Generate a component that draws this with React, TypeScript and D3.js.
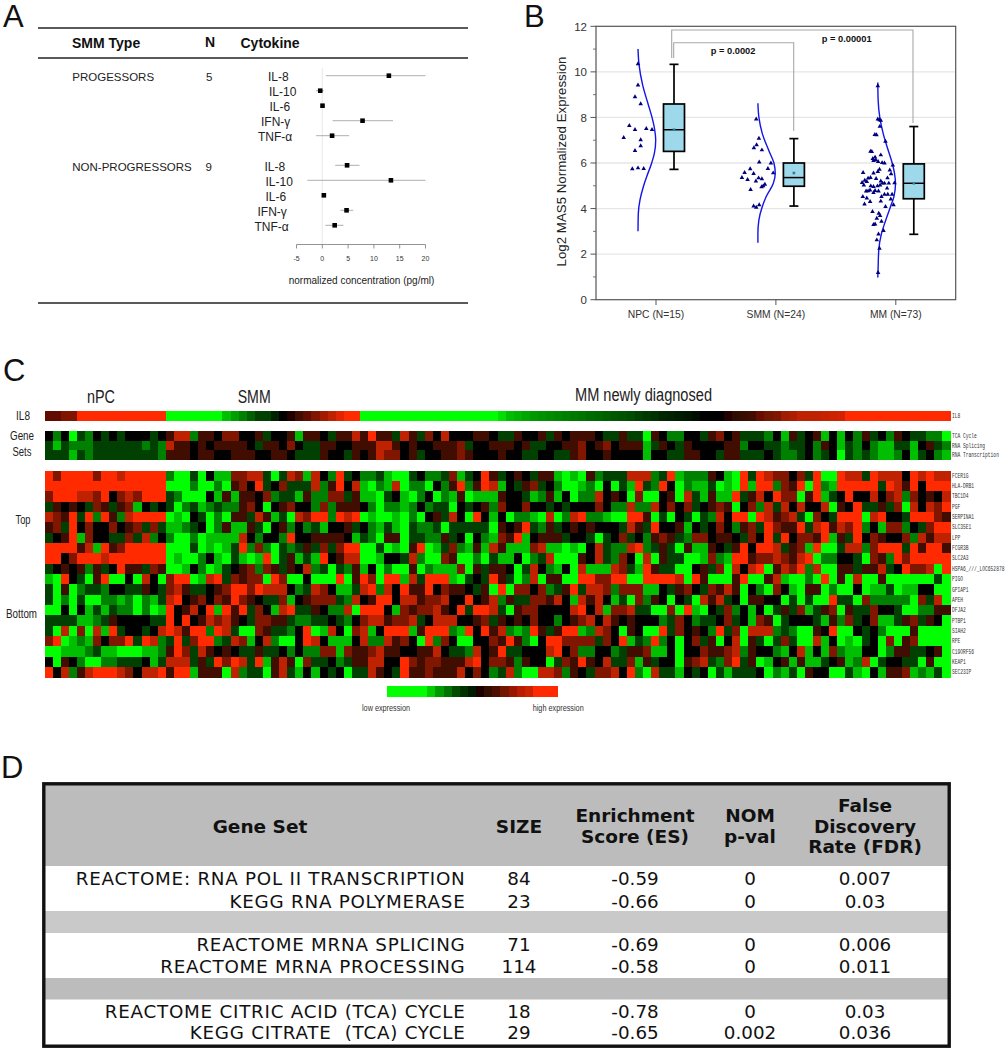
import React from "react";
import * as d3 from "d3";

// ---------- Panel A ----------
const cytokines = ["IL-8", "IL-10", "IL-6", "IFN-γ", "TNF-α"];
const progMean = [12.9, -0.4, 0.04, 7.8, 1.9];
const progLow = [0.7, -1.2, -0.2, 2.0, -1.2];
const progHigh = [20, 0.3, 0.2, 13.7, 5.2];
const nonMean = [4.8, 13.3, 0.3, 4.7, 2.4];
const nonLow = [2.5, -2.9, 0.0, 3.5, 0.6];
const nonHigh = [7.2, 20, 0.6, 6.0, 4.1];
const concTicks = [-5, 0, 5, 10, 15, 20];

// ---------- Panel B ----------
const groups = ["NPC (N=15)", "SMM (N=24)", "MM (N=73)"];
const exprTicks = [0, 2, 4, 6, 8, 10, 12];
const exprMinor = [1, 3, 5, 7, 9, 11];
const boxQ1 = [6.51, 4.98, 4.43];
const boxQ3 = [8.59, 6.0, 5.96];
const boxMedian = [7.46, 5.36, 5.11];
const boxMean = [7.46, 5.56, 5.11];
const whiskLow = [5.72, 4.11, 2.87];
const whiskHigh = [10.33, 7.07, 7.6];

const npcValues = [10.35, 9.42, 8.9, 8.59, 7.64, 7.46, 7.51, 7.46, 7.11, 7.01, 6.75, 6.54, 5.74, 5.78, 5.75];
const npcJitter = [-18, -18, -21, -15.3, -26.7, -21, -9.7, -4, -32.3, -15.3, -15.3, -21, -23.7, -18, -12.3];
const smmValues = [7.92, 7.08, 6.79, 6.66, 6.57, 6.04, 5.99, 5.75, 5.74, 5.58, 5.53, 5.56, 5.36, 5.34, 5.3, 5.27, 5.2, 5.06, 4.99, 4.95, 4.83, 4.16, 4.11, 4.05];
const smmJitter = [-19.7, -17, -19.3, -22, -14, -16.7, -5, -8, -25.7, -31.3, -22.3, -2.7, -34, -17.3, -14, -28.3, -20, -11, -12.7, -14.3, -25.3, -16.7, -22.3, -19.7];
const mmValues = [9.38, 7.92, 7.89, 7.87, 7.6, 7.24, 7.23, 6.95, 6.51, 6.5, 6.35, 6.25, 6.19, 6.13, 6.1, 6.06, 6.01, 5.99, 5.9, 5.72, 5.69, 5.62, 5.52, 5.58, 5.55, 5.36, 5.33, 5.24, 5.18, 5.34, 5.31, 5.2, 5.11, 5.14, 5.03, 4.99, 4.96, 4.99, 5.03, 5.11, 5.11, 5.12, 4.89, 4.81, 4.77, 4.79, 4.76, 4.76, 4.7, 4.62, 4.62, 4.62, 4.52, 4.52, 4.46, 4.3, 4.32, 4.41, 4.19, 4.16, 4.08, 3.86, 3.79, 3.69, 3.57, 3.44, 3.32, 3.29, 3.03, 2.88, 2.62, 2.25, 1.19];
const mmJitter = [-18, -18, -16.3, -15, -16, -21, -19.3, -10.3, -25.3, -24, -15, -20.7, -23, -20, -22.3, -17.7, -13.7, -11.3, -3, -16.3, -6, -18, -4.7, -32.7, -22.3, -25.3, -27.7, -31, -29, -8.3, -19.7, -15, -13.3, -33.7, -32, -25, -22.3, -18.3, -15.7, -11.3, -7, -1.3, -8.7, -25.7, -27.7, -20.7, -29.7, -17.3, -22.3, -11.3, -8, -3.7, -14.3, -33, -29, -25.7, -15, -5, -31.3, -2.3, -10.3, -23.3, -17, -15.7, -19, -14.3, -20.7, -22.3, -12.3, -17.3, -19, -16.3, -17.7];

const npcCurveV = [11, 10.33, 9.42, 8.6, 8, 7.46, 7, 6.42, 6, 5.4, 4.96, 4.38, 3.8, 3];
const npcCurveD = [0, 3, 14, 30, 42, 50, 53, 49, 41, 26, 16, 6, 1, 0];
const smmCurveV = [8.62, 8, 7.3, 6.57, 6, 5.55, 5.1, 4.5, 4.08, 3.5, 2.9, 2.5];
const smmCurveD = [0, 3, 13, 32, 48, 52, 46, 24, 13, 3, 0, 0];
const mmCurveV = [9.53, 8.77, 8, 7.3, 6.7, 6, 5.55, 5.1, 4.5, 4.08, 3.5, 2.9, 2.2, 1.45, 0.97];
const mmCurveD = [0, 1, 6, 16, 28, 43, 50, 53, 48, 38, 24, 11, 3, 1, 0];

// ---------- Panel C : levels 0 (low) .. 8 (high) ----------
const il8Levels = [1.5, 1.5, 2, 2, 4, 4, 4, 4, 4, 4, 4, 4, 4, 4, 4, -4, -4, -4, -4, -4, -4, -4, -3, -2.5, -2, -1.5, -1, -1, -0.5, 0, 0.5, 1, 1.5, 2, 2.5, 3, 3.5, 4, 4, -4, -4, -4, -4, -4, -4, -4, -4, -4, -4, -4, -4, -4, -4, -4, -4, -4, -3.5, -3, -2.8, -2.6, -2.4, -2.3, -2.2, -2.1, -2, -1.9, -1.8, -1.7, -1.6, -1.5, -1.4, -1.3, -1.2, -1, -0.9, -0.8, -0.6, -0.5, -0.4, -0.3, -0.2, -0.1, 0, 0, 0.5, 0.7, 0.9, 1, 1.6, 1.8, 2, 2.5, 2.7, 3, 3, 3, 3.1, 3.2, 3.3, 4, 4, 4, 4, 4, 4, 4, 4, 4, 4, 4, 4, 4];

const setNames = ["TCA Cycle", "RNA Splicing", "RNA Transcription"];
const setsA = [
  "4 2 4 0 3 2 4 3 4 3 4 4 4 3 4 5 7 7 2 5 5 4 6 6 4 4 5 3 4 4 5 1 5 5 4 3 5",
  "3 1 3 2 2 2 3 3 3 3 3 3 2 3 2 7 5 5 4 5 4 5 5 5 5 4 3 5 5 4 6 4 3 3 5 5 4",
  "3 3 3 1 3 2 3 3 3 3 3 3 3 3 2 5 5 5 4 5 5 4 4 5 5 5 4 4 5 5 4 3 3 3 5 4 4",
];
const setsB = [
  "5 7 5 8 5 5 3 7 5 3 6 4 7 4 4 4 5 5 4 3 3 5 4 4 5 3 5 4 5 5 5 4 3 3 5 3 3 0 5 4 2",
  "4 5 5 5 7 7 5 4 5 4 4 5 5 5 6 3 4 4 5 5 5 4 5 3 3 4 4 5 5 6 4 5 6 4 5 5 5 1 3 5 4",
  "3 5 4 5 7 6 6 4 5 3 4 4 5 5 6 5 4 4 4 5 4 4 3 3 4 4 3 3 5 6 4 4 5 4 4 4 4 1 4 4 3",
];
const setsC = [
  "2 4 4 3 5 6 4 5 3 3 3 2 4 1 5 3 4 5 1 4 1 4 2 5 3 4 2 5 4 3 3 2 2 0",
  "3 5 4 4 4 4 5 5 2 4 4 3 3 2 3 3 4 2 5 4 1 3 2 4 2 1 1 3 3 1 4 5 3 2",
  "3 5 5 4 4 3 5 5 3 3 3 4 3 2 2 3 4 2 3 4 0 3 2 3 2 1 1 2 4 1 3 4 2 1",
];

const geneNames = ["FCER1G", "HLA-DRB1", "TBC1D4", "PGF", "SERPINA1", "SLC35E1", "LPP", "FCGR3B", "SLC2A3", "HSPA6_///_LOC652878", "PIGO", "GPIAP1", "APEH", "DFJA2", "PTBP1", "SIAH2", "RPE", "C19ORF56", "KEAP1", "SEC23IP"];
const heatA = [
  "8 6 8 8 8 8 6 8 8 7 8 8 8 8 8 2 0 0 3 0 4 1 1 6 6 7 7 3 0 3 7 6 1 7 4 2 8",
  "8 8 8 8 8 8 8 8 8 8 8 8 8 8 8 0 0 0 2 0 0 2 0 5 6 4 8 3 4 6 3 3 3 7 2 5 8",
  "6 8 8 8 7 7 6 8 4 6 7 6 8 8 8 3 2 0 0 0 4 1 5 1 5 5 4 6 2 3 3 1 5 2 2 6 6",
  "3 5 4 5 4 3 6 5 3 5 6 1 4 3 4 3 0 2 3 1 2 3 2 2 5 6 4 0 4 5 6 4 4 2 6 2 5",
  "7 6 5 8 3 8 2 8 5 2 7 8 8 8 8 0 1 0 4 3 0 2 0 5 5 3 7 5 1 3 0 7 6 8 8 2 8",
  "5 6 3 8 4 6 4 4 6 4 5 6 3 6 3 1 1 2 3 4 0 2 5 1 1 5 3 0 4 5 2 4 2 3 1 4 4",
  "3 4 5 8 1 6 4 4 3 3 6 3 7 2 4 2 0 0 2 0 1 1 1 1 7 4 2 4 4 2 8 4 4 5 5 5 5",
  "8 8 8 8 5 7 1 8 5 6 8 8 8 8 8 0 0 0 3 0 1 0 1 3 8 2 6 2 0 3 2 3 5 3 6 3 6",
  "8 8 4 6 8 8 8 7 8 8 8 8 8 8 8 0 1 0 0 2 4 1 0 3 1 0 1 8 0 3 5 1 3 1 8 4 5",
  "3 4 5 4 5 2 5 3 4 8 5 5 3 6 5 0 0 1 4 2 0 1 3 4 5 6 2 6 5 3 5 4 7 2 3 0 3",
  "1 0 8 4 3 0 5 8 0 0 4 0 7 4 0 6 8 8 0 1 7 8 3 6 5 6 6 0 8 6 0 0 4 0 0 0 8",
  "3 0 5 0 2 3 3 2 4 4 3 3 5 4 3 6 7 5 3 3 4 5 6 8 8 6 8 7 7 7 4 2 3 7 6 4 1",
  "3 0 2 0 3 0 0 2 2 1 2 0 2 1 3 7 8 4 5 6 4 6 5 8 6 5 4 3 3 6 1 4 5 6 6 6 3",
  "0 0 4 0 4 1 3 1 3 2 2 0 2 0 1 8 4 5 7 4 8 1 8 5 8 3 6 4 1 7 8 3 3 5 4 2 2",
  "3 3 3 3 1 1 2 3 5 4 4 4 4 3 3 8 4 8 4 5 7 6 7 5 4 3 6 6 5 5 3 2 2 3 3 4 3",
  "3 0 7 0 6 0 7 1 8 3 4 4 3 4 7 8 7 5 8 8 2 8 7 3 0 0 6 5 3 3 2 4 8 0 1 7 4",
  "6 8 0 1 2 1 6 4 6 6 8 3 8 7 2 3 8 3 6 8 8 2 3 7 6 1 4 7 2 0 0 4 8 7 4 1 1",
  "0 0 1 1 1 2 3 1 1 0 0 0 1 1 2 5 8 6 3 7 5 4 5 4 3 3 5 3 3 4 2 4 2 2 6 6 1",
  "4 0 5 4 2 0 0 2 2 3 3 3 4 1 3 7 7 7 3 5 3 8 6 8 7 3 8 1 5 7 5 0 6 3 3 4 2",
  "8 4 7 2 5 7 8 8 8 7 6 4 7 7 8 5 8 8 1 5 5 5 0 7 2 3 3 0 5 7 3 1 4 1 4 3 4",
];
const heatB = [
  "3 4 2 2 3 1 0 0 3 4 2 2 3 6 1 3 4 8 5 3 4 5 4 3 5 5 1 0 1 0 5 2 3 3 3 7 7 7 2 3 8",
  "4 7 1 0 2 1 7 0 2 2 0 4 2 5 8 2 5 8 7 1 4 3 5 6 3 4 2 0 0 1 2 0 4 0 3 1 8 3 2 8 4",
  "3 5 1 1 0 3 4 1 0 2 4 0 2 1 5 0 1 1 1 5 4 4 3 1 2 5 1 4 0 2 2 7 4 5 4 0 6 0 0 4 5",
  "5 5 4 2 0 2 2 1 2 4 2 3 3 0 4 3 4 5 2 6 4 4 6 4 4 3 4 3 4 4 4 6 4 2 2 7 2 2 7 4 6",
  "7 8 0 1 0 0 1 0 2 0 4 5 3 7 4 0 8 4 1 4 0 2 2 1 0 7 0 2 7 8 2 2 1 0 0 8 8 5 0 3 0",
  "5 3 4 2 1 3 1 0 3 2 2 3 0 3 3 3 3 3 0 5 4 5 8 3 2 5 3 4 5 4 5 4 4 4 3 7 5 3 8 4 4",
  "4 1 3 2 0 5 5 0 3 3 2 2 5 3 4 0 4 2 1 6 5 8 1 4 5 5 5 3 4 4 3 0 3 4 6 3 4 2 5 6 5",
  "8 8 0 0 3 0 1 0 5 8 0 1 3 6 2 1 5 1 7 5 1 1 1 6 7 1 1 0 1 0 4 7 3 2 2 7 8 2 3 5 3",
  "7 7 0 0 1 4 4 3 7 2 0 0 6 5 0 0 2 0 3 1 1 4 0 2 3 7 0 0 0 5 4 7 3 2 6 4 0 7 0 5 3",
  "2 5 1 4 0 2 0 0 5 0 2 1 1 1 6 0 5 3 5 5 4 0 3 7 4 2 1 4 0 7 1 1 1 7 6 3 1 8 5 3 3",
  "0 5 8 6 0 8 8 1 7 3 8 8 8 1 0 3 4 3 8 5 3 0 2 7 0 5 5 0 0 8 8 6 6 8 8 0 0 8 8 8 8",
  "1 3 7 8 2 7 4 8 5 5 8 4 6 5 5 4 3 5 0 8 0 6 6 4 6 2 3 5 8 3 7 7 6 2 6 6 6 1 1 4 3",
  "2 7 4 5 8 8 4 7 7 5 6 6 7 4 4 8 4 5 7 2 5 3 3 6 6 5 7 4 1 7 5 7 4 1 3 0 6 2 5 4 0",
  "7 0 8 8 8 4 1 6 5 6 6 7 5 4 8 3 8 8 7 3 0 5 6 6 4 4 4 4 7 8 4 7 1 6 6 7 3 3 0 0 6",
  "2 4 6 7 7 5 6 6 7 3 4 7 7 7 4 4 5 6 3 5 4 5 4 6 4 4 2 4 5 6 7 4 7 5 4 5 4 4 4 2 3",
  "0 6 7 1 4 8 8 8 1 5 8 8 8 2 1 8 4 8 5 7 2 1 2 8 5 3 5 8 8 1 2 7 6 4 0 5 4 0 0 8 3",
  "1 4 7 2 2 7 5 6 4 0 8 2 6 4 0 0 4 4 6 5 8 5 2 0 4 8 8 6 6 6 6 3 6 4 8 1 3 2 8 2 4",
  "6 5 5 6 7 5 5 4 4 5 5 7 4 3 3 2 7 4 5 8 3 3 4 4 4 7 8 4 6 2 2 4 4 2 3 5 5 6 1 1 4",
  "3 5 5 7 7 4 4 8 6 5 6 6 5 5 5 7 8 4 6 6 5 2 5 4 4 0 3 6 5 8 5 4 7 3 3 6 1 5 3 4 4",
  "0 3 3 7 5 4 3 8 5 5 6 5 5 5 7 4 6 4 2 3 7 2 0 0 7 7 6 2 5 4 3 6 6 7 4 8 2 0 7 3 3",
];
const heatC = [
  "1 2 2 2 5 4 1 0 8 3 8 7 6 6 4 6 3 8 0 0 8 7 7 3 8 7 7 7 4 8 7 8 7 7",
  "0 2 1 1 3 0 1 0 8 1 8 8 2 6 5 8 0 8 2 1 8 8 8 8 8 3 8 7 5 8 4 8 8 8",
  "0 7 3 1 5 1 1 8 3 5 7 4 8 6 6 0 5 8 1 3 4 8 4 4 7 4 6 7 2 6 4 5 4 7",
  "4 6 3 4 5 6 5 0 4 6 2 7 3 7 4 7 4 4 7 0 5 4 8 3 3 5 3 6 0 7 4 7 6 8",
  "4 3 0 3 2 7 4 8 8 0 8 7 5 6 7 3 0 6 4 3 8 8 8 0 7 8 4 4 3 8 8 8 6 5",
  "5 1 4 3 4 6 4 2 5 6 3 8 6 5 5 8 3 7 8 5 7 6 8 2 4 1 6 6 2 4 3 6 8 8",
  "3 2 6 6 4 5 5 4 3 6 4 8 3 8 4 6 6 5 8 1 5 3 8 4 6 5 4 4 6 2 7 5 7 7",
  "0 5 1 1 5 4 3 5 8 4 8 8 7 3 5 6 1 8 0 0 3 7 7 2 6 8 8 8 3 8 5 8 8 5",
  "3 0 0 1 6 2 1 8 8 5 6 6 7 6 5 7 8 0 2 2 4 4 3 0 6 5 2 8 6 8 8 8 8 8",
  "0 0 4 5 3 6 0 7 4 7 8 0 5 7 6 8 2 7 0 0 5 5 3 5 5 7 3 4 8 6 6 7 0 8",
  "7 0 8 5 0 0 0 5 8 0 0 5 7 1 0 0 2 0 8 0 5 0 7 0 0 5 0 0 0 0 0 0 3 0",
  "5 6 4 3 6 5 7 5 0 4 2 0 6 4 1 0 5 5 0 2 0 0 4 0 1 1 3 0 1 1 4 4 0 0",
  "4 3 0 7 5 7 3 4 0 5 5 4 4 0 3 0 3 0 0 8 3 3 0 6 2 2 2 2 2 0 6 3 7 0",
  "0 8 1 0 4 3 6 2 4 1 4 0 3 5 3 6 1 3 5 6 0 5 3 3 6 4 4 3 0 0 2 2 5 5",
  "6 4 2 3 3 4 6 3 4 1 6 5 0 3 4 4 4 3 1 5 2 6 3 4 6 1 1 3 5 6 3 5 4 0",
  "6 4 5 4 2 8 3 6 0 7 7 7 2 3 2 0 0 5 4 8 0 0 4 3 4 2 0 0 0 5 0 0 0 0",
  "0 4 6 3 5 0 4 7 0 5 3 0 3 6 3 0 0 7 1 4 0 1 0 3 4 0 6 0 5 6 0 0 0 0",
  "0 4 4 6 5 5 6 7 2 5 4 4 2 1 4 7 1 4 1 6 2 1 1 4 4 0 2 5 5 3 3 4 5 0",
  "0 5 6 7 3 2 6 8 3 5 0 1 4 5 1 5 1 1 3 4 5 1 2 7 0 3 4 4 3 3 0 5 0 0",
  "1 4 3 4 0 3 1 3 3 3 4 0 2 1 3 0 5 4 4 0 0 3 1 0 4 1 5 5 6 1 2 1 3 0",
];
const legendLevels = [-4, -4, -4, -4, -4, -3.2, -2.4, -1.8, -1.2, -0.8, -0.4, 0.4, 0.8, 1.2, 1.8, 2.4, 2.9, 3.2, 4, 4, 4];

// ---------- Panel D ----------
const headerColumns = ["SIZE", "Enrichment\nScore (ES)", "NOM\np-val", "False\nDiscovery\nRate (FDR)"];
const geneSets = ["REACTOME: RNA POL II TRANSCRIPTION", "KEGG RNA POLYMERASE", "REACTOME MRNA SPLICING", "REACTOME MRNA PROCESSING", "REACTOME CITRIC ACID (TCA) CYCLE", "KEGG CITRATE  (TCA) CYCLE"];
const sizes = ["84", "23", "71", "114", "18", "29"];
const esScores = ["-0.59", "-0.66", "-0.69", "-0.58", "-0.78", "-0.65"];
const nomP = ["0", "0", "0", "0", "0", "0.002"];
const fdr = ["0.007", "0.03", "0.006", "0.011", "0.03", "0.036"];

const SANS = "'Liberation Sans', Arial, sans-serif";
const VERD = "'DejaVu Sans', Verdana, sans-serif";

const parse = (s: string) => s.split(" ").map((d) => +d - 4);
const heatColor = d3.scaleLinear<string>().domain([-4, 0, 4]).range(["#00ff00", "#000000", "#ff2a00"]);

function PanelA() {
  const x = d3.scaleLinear().domain([-5, 20]).range([296.5, 425.5]);
  const rowsTop = d3.scalePoint<number>().domain(d3.range(5)).range([75.7, 135.7]);
  const rowsBot = d3.scalePoint<number>().domain(d3.range(5)).range([165.3, 225.3]);
  const labelX1 = [268, 269, 269.5, 261, 258];
  const labelX2 = [264.5, 265.5, 265.5, 257.5, 254.5];
  const drawn = (y: any, mean: number[], lo: number[], hi: number[], lx: number[]) =>
    cytokines.map((c, i) => (
      <g key={c}>
        <line x1={x(lo[i])} x2={x(hi[i])} y1={y(i)} y2={y(i)} stroke="#9a9a9a" strokeWidth={0.8} />
        <rect x={x(mean[i]) - 2.3} y={y(i) - 2.3} width={4.6} height={4.6} fill="#000" />
        <text x={lx[i]} y={y(i) + 5.6} fontSize={12} fill="#222">{c}</text>
      </g>
    ));
  return (
    <g fontFamily={SANS}>
      <text x={3} y={27} fontSize={31} fill="#111">A</text>
      {[28, 58, 303].map((y) => (
        <line key={y} x1={38} x2={468} y1={y} y2={y} stroke="#222" strokeWidth={1.4} />
      ))}
      <g fontSize={14} fontWeight="bold" fill="#111">
        <text x={72} y={48}>SMM Type</text>
        <text x={205} y={47}>N</text>
        <text x={240.5} y={47.5}>Cytokine</text>
      </g>
      <g fontSize={11.5} fill="#222">
        <text x={72.3} y={81}>PROGESSORS</text>
        <text x={206} y={81}>5</text>
        <text x={72.3} y={170.5}>NON-PROGRESSORS</text>
        <text x={205.5} y={170.5}>9</text>
      </g>
      <line x1={x(0)} x2={x(0)} y1={68} y2={244.5} stroke="#e2e2e2" strokeWidth={0.8} />
      {drawn(rowsTop, progMean, progLow, progHigh, labelX1)}
      {drawn(rowsBot, nonMean, nonLow, nonHigh, labelX2)}
      <line x1={x(-5)} x2={x(20)} y1={244.5} y2={244.5} stroke="#777" strokeWidth={0.8} />
      {concTicks.map((t) => (
        <g key={t}>
          <line x1={x(t)} x2={x(t)} y1={244.5} y2={248.5} stroke="#777" strokeWidth={0.8} />
          <text x={x(t)} y={261} textAnchor="middle" fontSize={7} fill="#333">{t}</text>
        </g>
      ))}
      <text x={361.5} y={283.5} textAnchor="middle" fontSize={10} fill="#222">normalized concentration (pg/ml)</text>
    </g>
  );
}

function PanelB() {
  const y = d3.scaleLinear().domain([0, 12]).range([299.7, 26.3]);
  const x = d3.scalePoint<string>().domain(groups).range([656, 895.8]);
  const dx = d3.scaleLinear().domain([0, 53]).range([0, 17.7]);
  const values = [npcValues, smmValues, mmValues];
  const jitters = [npcJitter, smmJitter, mmJitter];
  const curveV = [npcCurveV, smmCurveV, mmCurveV];
  const curveD = [npcCurveD, smmCurveD, mmCurveD];
  const tri = d3.symbol().type(d3.symbolTriangle).size(9)() as string;
  return (
    <g fontFamily={SANS}>
      <text x={524} y={27} fontSize={31} fill="#111">B</text>
      {[2, 4, 6, 8, 10].map((t) => (
        <line key={t} x1={596} x2={955.7} y1={y(t)} y2={y(t)} stroke="#e6e6e6" strokeWidth={1.3} />
      ))}
      <rect x={596} y={26.3} width={359.7} height={273.4} fill="none" stroke="#555" strokeWidth={1.2} />
      {exprTicks.map((t) => (
        <g key={t}>
          <line x1={590.5} x2={596} y1={y(t)} y2={y(t)} stroke="#555" strokeWidth={1} />
          <text x={587} y={y(t) + 4.2} textAnchor="end" fontSize={11.5} fill="#333">{t}</text>
        </g>
      ))}
      {exprMinor.map((t) => (
        <line key={t} x1={593} x2={596} y1={y(t)} y2={y(t)} stroke="#555" strokeWidth={0.8} />
      ))}
      <text transform="translate(565.5,161.5) rotate(-90)" textAnchor="middle" fontSize={13.3} fill="#222">Log2 MAS5 Normalized Expression</text>
      {groups.map((g, i) => {
        const cx = x(g) as number;
        const boxX = cx + 18;
        const line = d3.line<number>()
          .x((d) => cx - 18 + dx(d))
          .y((_, k) => y(curveV[i][k]))
          .curve(d3.curveMonotoneY);
        return (
          <g key={g}>
            <line x1={cx} x2={cx} y1={299.7} y2={305} stroke="#555" strokeWidth={1} />
            <text x={cx} y={318} textAnchor="middle" fontSize={10.3} fill="#333">{g}</text>
            <path d={line(curveD[i]) as string} fill="none" stroke="#1414e6" strokeWidth={1.4} />
            {values[i].map((v, k) => (
              <path key={k} d={tri} transform={`translate(${cx + jitters[i][k]},${y(v)})`} fill="#00007f" />
            ))}
            <line x1={boxX} x2={boxX} y1={y(whiskHigh[i])} y2={y(whiskLow[i])} stroke="#000" strokeWidth={1.7} />
            <line x1={boxX - 4.5} x2={boxX + 4.5} y1={y(whiskHigh[i])} y2={y(whiskHigh[i])} stroke="#000" strokeWidth={1.7} />
            <line x1={boxX - 4.5} x2={boxX + 4.5} y1={y(whiskLow[i])} y2={y(whiskLow[i])} stroke="#000" strokeWidth={1.7} />
            <rect x={boxX - 10.5} y={y(boxQ3[i])} width={21} height={y(boxQ1[i]) - y(boxQ3[i])} fill="#9dd9ea" stroke="#000" strokeWidth={1.7} />
            <line x1={boxX - 10.5} x2={boxX + 10.5} y1={y(boxMedian[i])} y2={y(boxMedian[i])} stroke="#000" strokeWidth={1.5} />
            <rect x={boxX - 1.3} y={y(boxMean[i]) - 1.3} width={2.6} height={2.6} fill="#3a7a96" />
          </g>
        );
      })}
      <path d="M671.7,58 V30 H913 V123" fill="none" stroke="#a8a8a8" strokeWidth={1.1} />
      <path d="M673.7,58 V42.7 H793.7 V131" fill="none" stroke="#a8a8a8" strokeWidth={1.1} />
      <text x={710.7} y={54} fontSize={9.3} fontWeight="bold" fill="#111">p = 0.0002</text>
      <text x={821.7} y={41.5} fontSize={9.3} fontWeight="bold" fill="#111">p = 0.00001</text>
    </g>
  );
}

function PanelC() {
  const x = d3.scaleBand<number>().domain(d3.range(112)).range([44.5, 950.5]);
  const cw = x.bandwidth();
  const yHeat = d3.scaleBand<number>().domain(d3.range(20)).range([470.5, 677.5]);
  const ySets = d3.scaleBand<number>().domain(d3.range(3)).range([431, 460]);
  const legendX = d3.scaleBand<number>().domain(d3.range(legendLevels.length)).range([386.7, 557.3]);
  const cells = (rowsA: string[], rowsB: string[], rowsC: string[], yS: any) =>
    rowsA.map((_, r) => {
      const vals = [...parse(rowsA[r]), ...parse(rowsB[r]), ...parse(rowsC[r])];
      return vals.map((v, c) => (
        <rect key={`${r}-${c}`} x={x(c)} y={yS(r)} width={cw + 0.4} height={yS.bandwidth() + 0.4} fill={heatColor(v)} />
      ));
    });
  const mono = (t: string, xx: number, yy: number) => (
    <text key={t} transform={`translate(${xx},${yy + 2}) scale(0.72,1)`} fontFamily="'Liberation Mono', monospace" fontSize={6.4} fill="#333">{t}</text>
  );
  return (
    <g fontFamily={SANS}>
      <defs>
        <filter id="soft" x="-2%" y="-2%" width="104%" height="104%">
          <feGaussianBlur stdDeviation="0.5" />
        </filter>
      </defs>
      <text x={3} y={381} fontSize={31} fill="#111">C</text>
      <g fontSize={18} fill="#222">
        <text x={87} y={403} textLength={28} lengthAdjust="spacingAndGlyphs">nPC</text>
        <text x={237.7} y={403} textLength={33} lengthAdjust="spacingAndGlyphs">SMM</text>
        <text x={575} y={401} textLength={137} lengthAdjust="spacingAndGlyphs">MM newly diagnosed</text>
      </g>
      <g fontSize={12} fill="#222">
        <text x={16} y={419.5} textLength={14} lengthAdjust="spacingAndGlyphs">IL8</text>
        <text x={10} y={440} textLength={24} lengthAdjust="spacingAndGlyphs">Gene</text>
        <text x={12.5} y={456} textLength={19} lengthAdjust="spacingAndGlyphs">Sets</text>
        <text x={15.5} y={523.5} textLength={15} lengthAdjust="spacingAndGlyphs">Top</text>
        <text x={6} y={617.5} textLength={31} lengthAdjust="spacingAndGlyphs">Bottom</text>
      </g>
      <g shapeRendering="crispEdges" filter="url(#soft)">
        {il8Levels.map((v, c) => (
          <rect key={c} x={x(c)} y={410.5} width={cw + 0.4} height={10.5} fill={heatColor(v)} />
        ))}
        {cells(setsA, setsB, setsC, ySets)}
        {cells(heatA, heatB, heatC, yHeat)}
        {legendLevels.map((v, c) => (
          <rect key={c} x={legendX(c)} y={686} width={legendX.bandwidth() + 0.4} height={10.7} fill={heatColor(v)} />
        ))}
      </g>
      {mono("IL8", 952, 415.7)}
      {setNames.map((t, i) => mono(t, 952, (ySets(i) as number) + ySets.bandwidth() / 2))}
      {geneNames.map((t, i) => mono(t, 952, (yHeat(i) as number) + yHeat.bandwidth() / 2))}
      <g fontSize={9} fill="#333">
        <text x={362} y={711} textLength={48} lengthAdjust="spacingAndGlyphs">low expression</text>
        <text x={532.7} y={711} textLength={51} lengthAdjust="spacingAndGlyphs">high expression</text>
      </g>
    </g>
  );
}

function PanelD() {
  const rowY = [878.7, 901.7, 945, 966.7, 1011.7, 1033];
  const colX = [519, 635, 750, 865];
  const cols = [sizes, esScores, nomP, fdr];
  const lineH = 20.6;
  return (
    <g>
      <text x={1} y={778} fontSize={31} fontFamily={SANS} fill="#111">D</text>
      <rect x={43} y={783} width={907} height={264} fill="#fff" />
      <rect x={43} y={783} width={907} height={83} fill="#bcbcbc" />
      <rect x={43} y={911} width={907} height={22} fill="#c9c9c9" />
      <rect x={43} y={978} width={907} height={21.5} fill="#bcbcbc" />
      <rect x={43.8} y={783.8} width={905.4} height={262.4} fill="none" stroke="#111" strokeWidth={3.4} />
      <g fontFamily={VERD} fontWeight="bold" fontSize={18.5} fill="#111" textAnchor="middle">
        <text x={260} y={832.5}>Gene Set</text>
        {headerColumns.map((h, i) => {
          const parts = h.split("\n");
          const top = 826.7 - ((parts.length - 1) * lineH) / 2;
          return parts.map((p, k) => (
            <text key={p} x={colX[i]} y={top + k * lineH + 5.8}>{p}</text>
          ));
        })}
      </g>
      <g fontFamily={VERD} fontSize={18.3} fill="#111">
        {geneSets.map((g, i) => (
          <text key={g} x={465.5} y={rowY[i] + 6.4} textAnchor="end" letterSpacing={0.75} style={{ whiteSpace: "pre" }}>{g}</text>
        ))}
        {cols.map((col, c) =>
          col.map((v, i) => (
            <text key={`${c}-${i}`} x={colX[c]} y={rowY[i] + 6.4} textAnchor="middle">{v}</text>
          ))
        )}
      </g>
    </g>
  );
}

export default function App() {
  return (
    <svg width={1006} height={1050} viewBox="0 0 1006 1050" style={{ position: "absolute", left: 0, top: 0, display: "block", background: "#fff" }}>
      <PanelA />
      <PanelB />
      <PanelC />
      <PanelD />
    </svg>
  );
}
